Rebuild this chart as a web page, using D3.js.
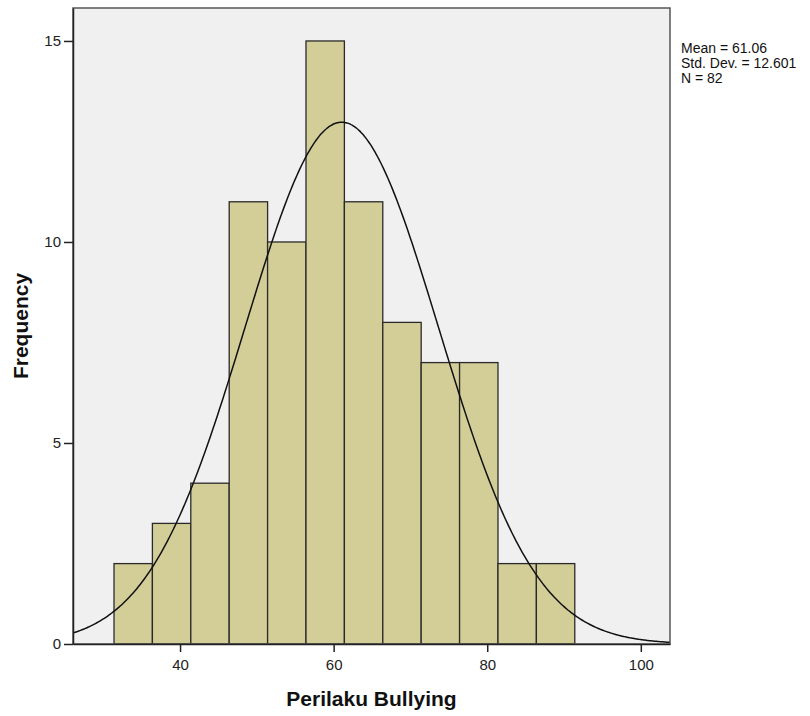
<!DOCTYPE html>
<html><head><meta charset="utf-8">
<script src="https://cdn.jsdelivr.net/npm/d3@7"></script>
<style>body{margin:0;background:#fff;} svg{display:block;font-family:"Liberation Sans",Arial,sans-serif;}</style>
</head><body>
<svg id="c" width="810" height="716"></svg>
<script>
const binStarts = [31.4,36.4,41.4,46.4,51.4,56.4,61.4,66.4,71.4,76.4,81.4,86.4];
const binWidth = 5;
const freqs = [2,3,4,11,10,15,11,8,7,7,2,2];
const xTicks = [40,60,80,100];
const yTicks = [0,5,10,15];
const stats = ["Mean = 61.06","Std. Dev. = 12.601","N = 82"];
const mean = 61.06, sd = 12.601, n = 82;

const svg = d3.select("#c");
const L=73, R=670, T=8, B=644;
const x = d3.scaleLinear().domain([26.06,103.8]).range([L,R]);
const y = d3.scaleLinear().domain([0,15.82]).range([B,T]);

svg.append("rect").attr("x",L).attr("y",T).attr("width",R-L).attr("height",B-T).attr("fill","#f0f0f0");

svg.append("g").selectAll("rect").data(freqs).join("rect")
  .attr("x",(d,i)=>x(binStarts[i])).attr("y",d=>y(d))
  .attr("width",(d,i)=>x(binStarts[i]+binWidth)-x(binStarts[i]))
  .attr("height",d=>B-y(d))
  .attr("fill","#d3ce98").attr("stroke","#2a2a2a").attr("stroke-width",1.3);

const pdf = v => n*binWidth*Math.exp(-0.5*((v-mean)/sd)**2)/(sd*Math.sqrt(2*Math.PI));
const xs = d3.range(0,401).map(i=>26.06+(103.8-26.06)*i/400);
svg.append("clipPath").attr("id","pc").append("rect").attr("x",L).attr("y",T).attr("width",R-L).attr("height",B-T);
svg.append("path").datum(xs).attr("clip-path","url(#pc)")
  .attr("d",d3.line().x(v=>x(v)).y(v=>y(pdf(v))).curve(d3.curveBasis))
  .attr("fill","none").attr("stroke","#111").attr("stroke-width",1.5);

svg.append("rect").attr("x",L).attr("y",T).attr("width",R-L).attr("height",B-T)
  .attr("fill","none").attr("stroke","#555").attr("stroke-width",1.5);

const xa = svg.append("g").attr("transform",`translate(0,${B})`)
  .call(d3.axisBottom(x).tickValues(xTicks).tickSize(8).tickSizeOuter(0).tickPadding(7));
const ya = svg.append("g").attr("transform",`translate(${L},0)`)
  .call(d3.axisLeft(y).tickValues(yTicks).tickSize(9).tickSizeOuter(0).tickPadding(3));
[xa,ya].forEach(a=>{
  a.select(".domain").attr("stroke","#222").attr("stroke-width",1.5);
  a.selectAll(".tick line").attr("stroke","#222").attr("stroke-width",1.5);
  a.selectAll(".tick text").attr("fill","#222").style("font-size","15px").style("font-family","Liberation Sans, Arial, sans-serif");
});

svg.append("text").attr("x",(L+R)/2).attr("y",706).attr("text-anchor","middle")
  .style("font-size","21px").style("font-weight","bold").attr("fill","#111").text("Perilaku Bullying");
svg.append("text").attr("transform",`translate(28,${(T+B)/2}) rotate(-90)`).attr("text-anchor","middle")
  .style("font-size","21px").style("font-weight","bold").attr("fill","#111").text("Frequency");

svg.append("g").selectAll("text").data(stats).join("text")
  .attr("x",681).attr("y",(d,i)=>53+i*15)
  .style("font-size","14px").attr("fill","#111").text(d=>d);
</script>
</body></html>
